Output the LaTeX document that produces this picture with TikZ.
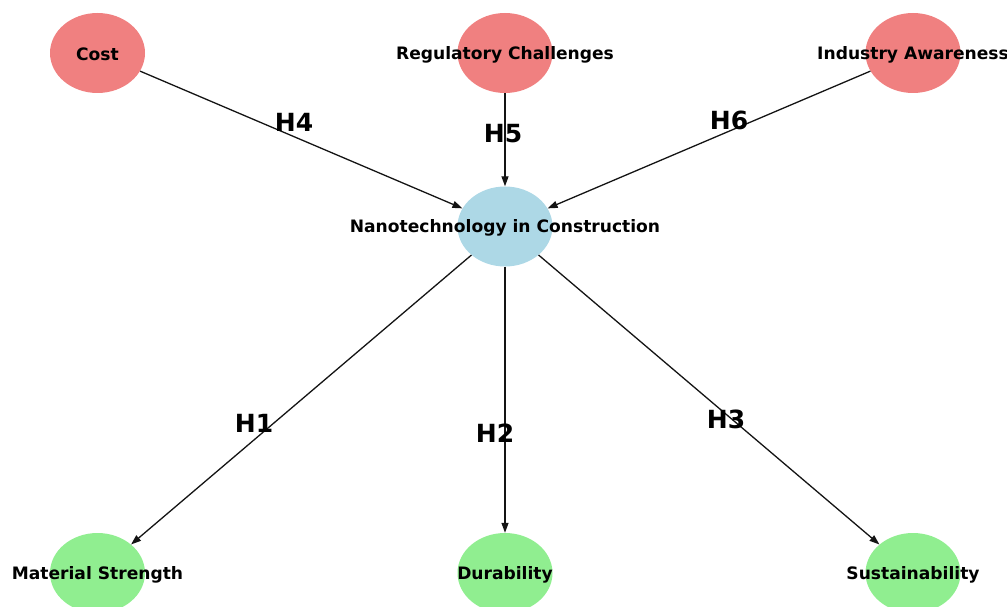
\documentclass[tikz,border=0pt]{standalone}
\usepackage{fontspec}
\setmainfont{DejaVu Sans}
\usetikzlibrary{arrows.meta,shapes.geometric}
\definecolor{lcoral}{HTML}{F08080}
\definecolor{lblue}{HTML}{ADD8E6}
\definecolor{lgreen}{HTML}{90EE90}
\begin{document}
\begin{tikzpicture}[x=1pt,y=-1pt,
  vertex/.style={ellipse, draw=none, minimum width=95pt, minimum height=80pt, inner sep=0pt},
  factor/.style={vertex, fill=lcoral},
  core/.style={vertex, fill=lblue},
  outcome/.style={vertex, fill=lgreen},
  nodetext/.style={font=\fontsize{17.1}{19}\selectfont\bfseries, inner sep=0pt, yshift=-1.5pt},
  link/.style={-{Triangle[length=10pt,width=7pt]}, line width=1.3pt, draw=black!92},
  hyp/.style={font=\fontsize{25}{28}\selectfont\bfseries, inner sep=0pt}]
\useasboundingbox (0,0) rectangle (1007,607);
% nodes
\node[factor]  (cost) at (97.5,53)  {};
\node[factor]  (reg)  at (505,53)   {};
\node[factor]  (ind)  at (913,53)   {};
\node[core]    (nano) at (505,226.5) {};
\node[outcome] (mat)  at (97.5,573) {};
\node[outcome] (dur)  at (505,573)  {};
\node[outcome] (sus)  at (913,573)  {};
% connectors
\draw[link] (cost) -- (nano);
\draw[link] (reg)  -- (nano);
\draw[link] (ind)  -- (nano);
\draw[link] (nano) -- (mat);
\draw[link] (nano) -- (dur);
\draw[link] (nano) -- (sus);
% node texts
\node[nodetext] (tcost) at (cost) {Cost};
\node[nodetext] (treg)  at (reg)  {Regulatory Challenges};
\node[nodetext] (tind)  at (ind)  {Industry Awareness};
\node[nodetext] (tnano) at (nano) {Nanotechnology in Construction};
\node[nodetext] (tmat)  at (mat)  {Material Strength};
\node[nodetext] (tdur)  at (dur)  {Durability};
\node[nodetext] (tsus)  at (sus)  {Sustainability};
% hypothesis labels
\node[hyp] (h4) at (294,122) {H4};
\node[hyp] (h5) at (503,134) {H5};
\node[hyp] (h6) at (729,120) {H6};
\node[hyp] (h1) at (254,423) {H1};
\node[hyp] (h2) at (495,433) {H2};
\node[hyp] (h3) at (726,419) {H3};
\end{tikzpicture}
\end{document}
